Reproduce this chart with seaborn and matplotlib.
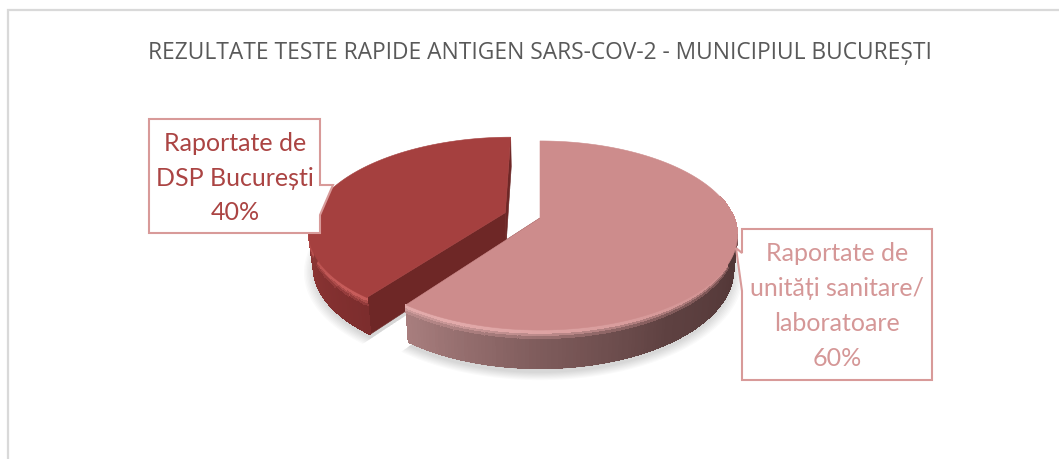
"""
3D style pie of the rapid antigen tests reported in Bucharest.
"""

import numpy as np
import matplotlib
matplotlib.use("Agg")
import matplotlib.pyplot as plt
from matplotlib.collections import LineCollection, PolyCollection
from matplotlib.colors import to_rgb
from matplotlib.patches import Polygon
import seaborn as sns

TITLE = "REZULTATE TESTE RAPIDE ANTIGEN SARS-COV-2 - MUNICIPIUL BUCUREȘTI"
SOURCES = ["Raportate de\nunități sanitare/\nlaboratoare", "Raportate de\nDSP București"]
SHARES = [60, 40]
EXPLODE = [0, 0.19]

TOP_COLORS = ["#CD8C8C", "#A5403F"]
HIGHLIGHTS = ["#E2AAAA", "#C65C5A"]
WALL_COLORS = [["#A87E7E", "#7F5C5C", "#5E4141", "#543838", "#503636"],
               ["#8C3A39", "#8A3433", "#7C2D2D"]]
CUT_COLOR = "#6E2726"
TEXT_COLORS = ["#D59797", "#AB4443"]
BOX_COLOR = "#D89A99"
FONT = ["Lato", "Open Sans", "DejaVu Sans"]

# perspective of the pie in image pixels
CX, CY = 540, 218
RX, RY = 194, 91.3
TILT = 0.185
DEPTH = 33


def project(x, y, z=0.0):
    s = 1 / (1 + TILT * y)
    shrink = 1 - 0.02 * z
    return np.column_stack([CX + RX * x * s * shrink,
                            CY - RY * y * s * shrink + DEPTH * z * s * np.ones_like(x)])


def drawWall(ax, x, y, palette, topColor, highlight, glowFromRight):
    # one column per arc step, a few bands per column for the soft bevel
    bands = np.array([0, 0.06, 0.12, 0.18, 0.26, 0.36, 1.0])
    top = np.array(to_rgb(topColor))
    high = np.array(to_rgb(highlight))
    polys, colors = [], []
    n = len(x) - 1
    for i in range(n):
        frac = i / max(n - 1, 1)
        wall = np.array(palette[i])
        if glowFromRight:
            glow = np.clip(frac * 1.5 - 0.3, 0, 1)
        else:
            glow = np.clip(1.15 - frac * 1.5, 0, 1)
        first = top * (1 - glow) + high * glow
        stops = [first, first, first * 0.65 + wall * 0.35, first * 0.3 + wall * 0.7, wall, wall]
        for j in range(len(bands) - 1):
            a = project(x[i:i + 2], y[i:i + 2], bands[j])
            b = project(x[i:i + 2], y[i:i + 2], bands[j + 1])
            polys.append(np.vstack([a, b[::-1]]))
            colors.append(stops[j])
    # no antialiasing here, otherwise the columns leave seams
    ax.add_collection(PolyCollection(polys, facecolors=colors, edgecolors=colors,
                                     linewidths=0.6, antialiaseds=False))

    # smooth the lower silhouette again
    low = project(x, y, 1)
    segs = np.stack([low[:-1], low[1:]], axis=1)
    ax.add_collection(LineCollection(segs, colors=palette[:n], linewidths=1.0, zorder=1))


def drawSlice(ax, wedge, topColor, highlight, wallColors, glowFromRight):
    t = np.radians(np.linspace(wedge.theta1, wedge.theta2, 240))
    ox, oy = wedge.center
    ax_x = ox + wedge.r * np.cos(t)
    ax_y = oy + wedge.r * np.sin(t)

    # cut faces first, the arc walls cover them
    for ex, ey in ((ax_x[0], ax_y[0]), (ax_x[-1], ax_y[-1])):
        xs = np.array([ox, ex])
        ys = np.array([oy, ey])
        quad = np.vstack([project(xs, ys, 0), project(xs, ys, 1)[::-1]])
        ax.add_patch(Polygon(quad, closed=True, fc=CUT_COLOR, ec=CUT_COLOR, lw=0.4))

    # only the front part of the arc shows, going left to right
    front = ax_y < oy + 0.25
    fx, fy = ax_x[front], ax_y[front]
    order = np.argsort(fx)
    fx, fy = fx[order], fy[order]
    palette = sns.blend_palette(wallColors, len(fx))
    drawWall(ax, fx, fy, palette, topColor, highlight, glowFromRight)

    top = project(np.r_[ox, ax_x], np.r_[oy, ax_y], 0)
    ax.add_patch(Polygon(top, closed=True, fc=topColor, ec=topColor, lw=0.4))


def drawShadow(ax, wedge):
    t = np.radians(np.linspace(wedge.theta1, wedge.theta2, 240))
    ox, oy = wedge.center
    for grow in np.linspace(0.05, 0.0, 8):
        x = np.r_[ox, ox + (wedge.r + grow) * np.cos(t)]
        y = np.r_[oy, oy + (wedge.r + grow) * np.sin(t)]
        ax.add_patch(Polygon(project(x, y, 1.12), closed=True, fc="#000000", ec="none", alpha=0.02))


def drawCallout(ax, outline, text, textColor, center, fontsize):
    ax.add_patch(Polygon(outline, closed=True, fc="white", ec=BOX_COLOR, lw=1.5, zorder=5))
    ax.text(center[0], center[1], text, color=textColor, fontsize=fontsize, ha="center", va="center",
            linespacing=1.62, family=FONT, zorder=6)


def main():
    sns.set_style("white")
    fig = plt.figure(figsize=(10.59, 4.59), dpi=100)
    ax = fig.add_axes([0, 0, 1, 1])

    wedges, _ = ax.pie(SHARES, explode=EXPLODE, startangle=90, counterclock=False)
    for w in wedges:
        w.set_visible(False)

    ax.set_aspect("auto")
    ax.set_xlim(0, 1059)
    ax.set_ylim(459, 0)
    ax.axis("off")

    # chart frame, the right and bottom sides are cropped away
    ax.plot([8, 8, 1059], [459, 10, 10], color="#D9D9D9", lw=1.6, solid_joinstyle="miter")

    ax.text(540, 53, TITLE, color="#595959", fontsize=16.4, ha="center", va="center", family="Open Sans")

    for w in wedges:
        drawShadow(ax, w)
    # the exploded slice sits behind the big one
    drawSlice(ax, wedges[1], TOP_COLORS[1], HIGHLIGHTS[1], WALL_COLORS[1], True)
    drawSlice(ax, wedges[0], TOP_COLORS[0], HIGHLIGHTS[0], WALL_COLORS[0], False)

    redBox = [(149, 119), (320, 119), (320, 185), (333, 185), (320, 215), (320, 233), (149, 233)]
    pinkBox = [(742, 229), (932, 229), (932, 380), (742, 380), (742, 291), (736, 248), (742, 253)]
    drawCallout(ax, redBox, f"{SOURCES[1]}\n{SHARES[1]}%", TEXT_COLORS[1], (235, 178), 18)
    drawCallout(ax, pinkBox, f"{SOURCES[0]}\n{SHARES[0]}%", TEXT_COLORS[0], (837, 306), 18)

    fig.savefig("out.png", dpi=100)


if __name__ == "__main__":
    main()
